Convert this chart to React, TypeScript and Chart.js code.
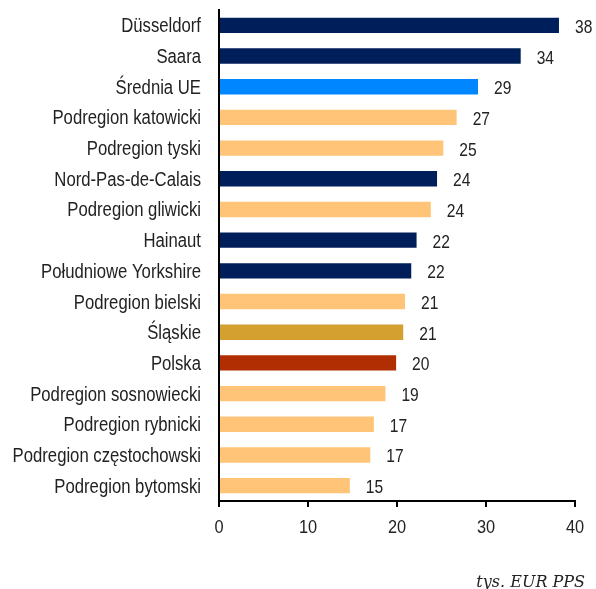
import React, { useEffect, useRef } from "react";
import { Chart, registerables } from "chart.js";

Chart.register(...registerables);

const categories = [
  "Düsseldorf",
  "Saara",
  "Średnia UE",
  "Podregion katowicki",
  "Podregion tyski",
  "Nord-Pas-de-Calais",
  "Podregion gliwicki",
  "Hainaut",
  "Południowe Yorkshire",
  "Podregion bielski",
  "Śląskie",
  "Polska",
  "Podregion sosnowiecki",
  "Podregion rybnicki",
  "Podregion częstochowski",
  "Podregion bytomski",
];

const values = [38.2, 33.9, 29.1, 26.7, 25.2, 24.5, 23.8, 22.2, 21.6, 20.9, 20.7, 19.9, 18.7, 17.4, 17.0, 14.7];
const valueLabels = ["38", "34", "29", "27", "25", "24", "24", "22", "22", "21", "21", "20", "19", "17", "17", "15"];
const xTicks = [0, 10, 20, 30, 40];

const NAVY = "#001F5A";
const BLUE = "#0086FF";
const PEACH = "#FFC477";
const GOLD = "#D4A030";
const RUST = "#B02E02";
const barColors = [NAVY, NAVY, BLUE, PEACH, PEACH, NAVY, PEACH, NAVY, NAVY, PEACH, GOLD, RUST, PEACH, PEACH, PEACH, PEACH];

const unitLabel = "tys. EUR PPS";
const FONT = "'Liberation Sans', Arial, sans-serif";
const TEXT = "#222";

function condensedText(ctx: any, text: string, x: number, y: number, size: number, squeeze: number, align: string) {
  ctx.save();
  ctx.font = `${size}px ${FONT}`;
  ctx.fillStyle = TEXT;
  ctx.textAlign = align;
  ctx.textBaseline = "alphabetic";
  ctx.translate(x, y);
  ctx.scale(squeeze, 1);
  ctx.fillText(text, 0, 0);
  ctx.restore();
}

const textPlugin = {
  id: "condensedTexts",
  afterDraw(chart: any) {
    const ctx = chart.ctx;
    const yScale = chart.scales.y;
    const xScale = chart.scales.x;
    const meta = chart.getDatasetMeta(0);
    categories.forEach((label, i) => {
      const y = yScale.getPixelForValue(i);
      condensedText(ctx, label, yScale.right - 18, y + 7, 20, 0.835, "right");
    });
    meta.data.forEach((bar: any, i: number) => {
      condensedText(ctx, valueLabels[i], bar.x + 16, bar.y + 7.5, 19, 0.82, "left");
    });
    xTicks.forEach((v) => {
      condensedText(ctx, String(v), xScale.getPixelForValue(v), xScale.top + 32, 19, 0.86, "center");
    });
    ctx.save();
    ctx.font = `italic 16px 'DejaVu Serif', 'Liberation Serif', serif`;
    ctx.fillStyle = TEXT;
    ctx.textAlign = "right";
    ctx.textBaseline = "alphabetic";
    ctx.fillText(unitLabel, chart.width - 11, 587);
    ctx.restore();
  },
};

export default function App() {
  const ref = useRef<HTMLCanvasElement>(null);
  useEffect(() => {
    if (!ref.current) return;
    const chart = new Chart(ref.current, {
      type: "bar",
      data: {
        labels: categories,
        datasets: [
          {
            data: values,
            backgroundColor: barColors,
            borderWidth: 0,
            barPercentage: 0.5,
            categoryPercentage: 1,
          },
        ],
      },
      options: {
        indexAxis: "y",
        responsive: false,
        animation: false,
        layout: { padding: { top: 10, right: 21, bottom: 48, left: 0 } },
        plugins: {
          legend: { display: false },
          tooltip: { enabled: false },
        },
        scales: {
          x: {
            min: 0,
            max: 40,
            ticks: { stepSize: 10, display: false },
            grid: { display: true, drawOnChartArea: false, drawTicks: true, tickLength: 6, color: "#000", lineWidth: 2 },
            border: { display: true, color: "#000", width: 2 },
            afterFit(scale: any) {
              scale.height = 40;
              scale.paddingLeft = 0;
              scale.paddingRight = 0;
            },
          },
          y: {
            ticks: { display: false },
            grid: { display: false, drawTicks: false },
            border: { display: true, color: "#000", width: 2 },
            afterFit(scale: any) {
              scale.width = 219;
              scale.paddingTop = 0;
              scale.paddingBottom = 0;
            },
          },
        },
      },
      plugins: [textPlugin],
    });
    return () => chart.destroy();
  }, []);
  return (
    <div style={{ position: "absolute", left: 0, top: 0, width: 596, height: 589, background: "#fff" }}>
      <canvas ref={ref} width={596} height={589} style={{ display: "block" }} />
    </div>
  );
}
